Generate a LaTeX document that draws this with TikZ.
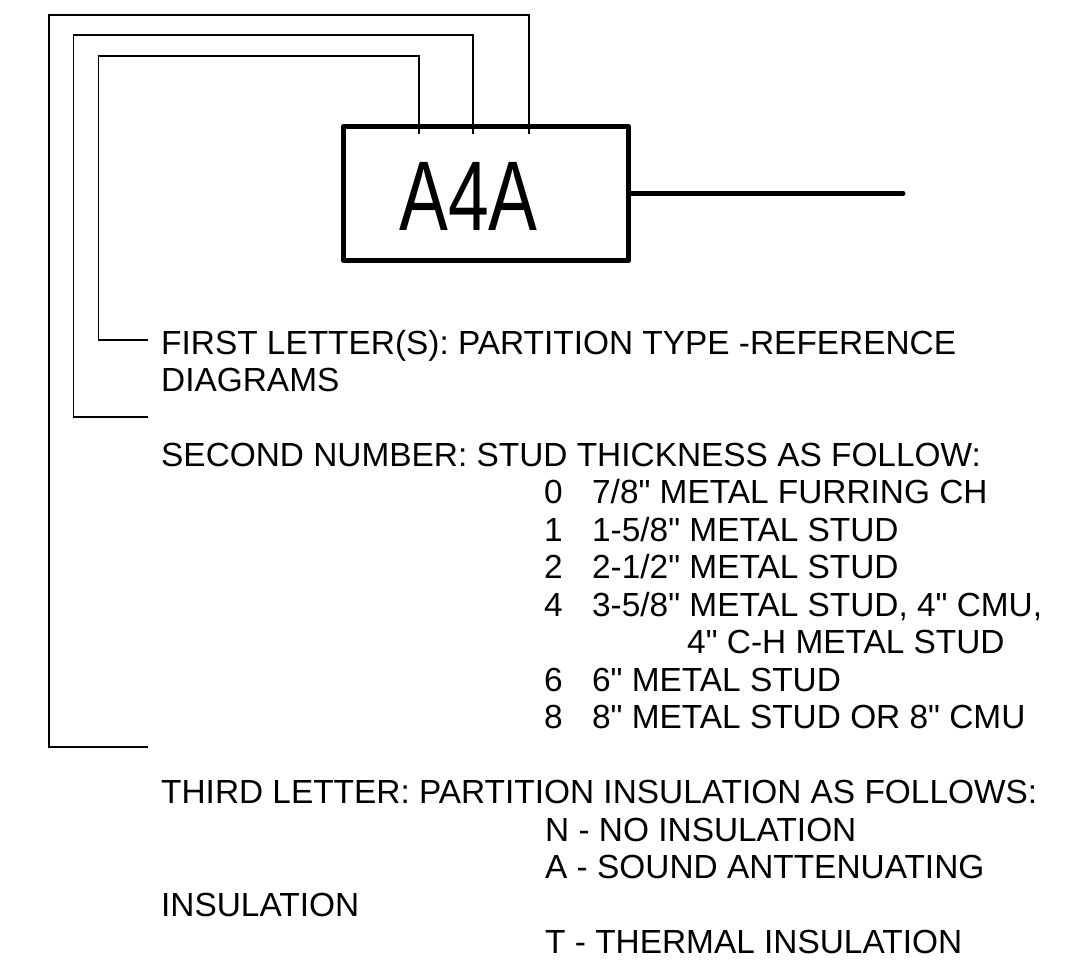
\documentclass[tikz,border=0pt]{standalone}
\usepackage{fontspec}
\setmainfont{Liberation Sans}[Ligatures=TeXOff]
\usepackage{graphicx}
\newcommand{\legendfont}{\fontsize{33.4}{37.5}\selectfont}
\newcommand{\tagfont}{\fontsize{99}{99}\selectfont}
\tikzset{
  leader/.style={line width=1.2pt},
  tagbox/.style={draw, line width=5pt, line join=round, minimum width=285pt, minimum height=134pt, inner sep=0pt},
  tagtext/.style={inner sep=0pt},
  legend/.style={anchor=base west, inner sep=0pt, font=\legendfont}
}
\begin{document}
\begin{tikzpicture}[x=1pt, y=-1pt]
      \useasboundingbox (0,0) rectangle (1065,965);

      \node[tagbox] (tag) at (486,193.5) {};
      \node[tagtext] (code) at (468.5,196) {\tagfont\scalebox{0.74}[1]{A4A}};
      \coordinate (lineend) at (903,193.5);
      \draw[line width=5pt, line cap=round] (tag.east) -- (lineend);

      \coordinate (t1) at ([xshift=-67pt, yshift=-10pt]tag.north);
      \coordinate (t2) at ([xshift=-13pt, yshift=-10pt]tag.north);
      \coordinate (t3) at ([xshift=43pt, yshift=-10pt]tag.north);
      \coordinate (l1) at (148,340);
      \coordinate (l2) at (148,417);
      \coordinate (l3) at (148,747);

      \draw[leader] (t1) |- (98.7,56) |- (l1);
      \draw[leader] (t2) |- (73.4,35) |- (l2);
      \draw[leader] (t3) |- (48.9,15) |- (l3);

      \node[legend] (first) at (161,355) {FIRST LETTER(S): PARTITION TYPE -REFERENCE};
      \node[legend] (first2) at (161,391) {DIAGRAMS};

      \node[legend] (second) at (161,466) {SECOND NUMBER: STUD THICKNESS AS FOLLOW:};
      \node[legend] (s0) at (544,503.5) {\makebox[48pt][l]{0}7/8" METAL FURRING CH};
      \node[legend] (s1) at (544,541) {\makebox[48pt][l]{1}1-5/8" METAL STUD};
      \node[legend] (s2) at (544,578.5) {\makebox[48pt][l]{2}2-1/2" METAL STUD};
      \node[legend] (s4) at (544,616) {\makebox[48pt][l]{4}3-5/8" METAL STUD, 4" CMU,};
      \node[legend] (s4b) at (687,653.5) {4" C-H METAL STUD};
      \node[legend] (s6) at (544,691) {\makebox[48pt][l]{6}6" METAL STUD};
      \node[legend] (s8) at (544,728.5) {\makebox[48pt][l]{8}8" METAL STUD OR 8" CMU};

      \node[legend] (third) at (161,803.5) {THIRD LETTER: PARTITION INSULATION AS FOLLOWS:};
      \node[legend] (tn) at (545,841) {N - NO INSULATION};
      \node[legend] (ta) at (545,878.5) {A - SOUND ANTTENUATING};
      \node[legend] (ta2) at (161,916) {INSULATION};
      \node[legend] (tt) at (545,953.5) {T - THERMAL INSULATION};
    \end{tikzpicture}
\end{document}
